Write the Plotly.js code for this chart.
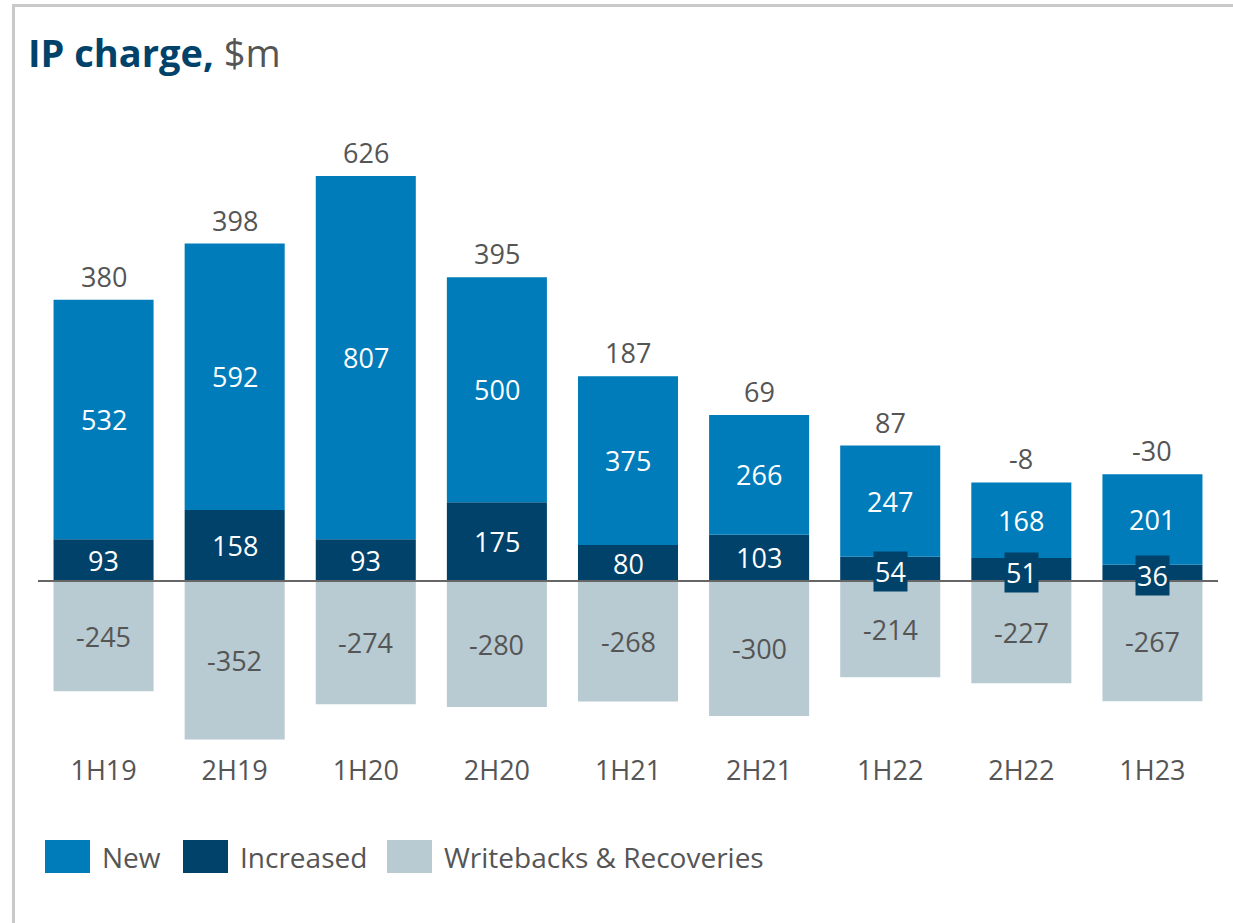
<!DOCTYPE html>
<html>
<head>
<meta charset="utf-8">
<script src="https://cdn.plot.ly/plotly-3.0.1.min.js"></script>
<style>
  html, body { margin: 0; padding: 0; background: #fff; }
  #frame { position: absolute; left: 12px; top: 4px; width: 1300px; height: 1000px;
           border-top: 3px solid #c9c9c9; border-left: 3px solid #c9c9c9; pointer-events: none; z-index: 5; }
  #chart { position: absolute; left: 0; top: 0; width: 1233px; height: 923px; }
</style>
</head>
<body>
<div id="chart"></div>
<div id="frame"></div>
<script>
const periods = ['1H19','2H19','1H20','2H20','1H21','2H21','1H22','2H22','1H23'];
const newVals = [532, 592, 807, 500, 375, 266, 247, 168, 201];
const increasedVals = [93, 158, 93, 175, 80, 103, 54, 51, 36];
const writebackVals = [-245, -352, -274, -280, -268, -300, -214, -227, -267];
const netTotals = [380, 398, 626, 395, 187, 69, 87, -8, -30];
const seriesNames = ['New', 'Increased', 'Writebacks & Recoveries'];

const cNew = '#007CBA', cInc = '#00426A', cWb = '#B8CAD2', cText = '#555555';
const font = 'Open Sans, sans-serif';
const fs = 27;

const traces = [
  { type: 'bar', name: seriesNames[1], x: periods, y: increasedVals, marker: { color: cInc }, hoverinfo: 'skip' },
  { type: 'bar', name: seriesNames[0], x: periods, y: newVals, marker: { color: cNew }, hoverinfo: 'skip' },
  { type: 'bar', name: seriesNames[2], x: periods, y: writebackVals, marker: { color: cWb }, hoverinfo: 'skip' }
];

const annotations = [];
periods.forEach((p, i) => {
  annotations.push({ x: p, y: increasedVals[i] + newVals[i] / 2, text: String(newVals[i]), showarrow: false,
    font: { family: font, size: fs, color: '#ffffff' } });
  const small = increasedVals[i] < 60;
  annotations.push({ x: p, y: increasedVals[i] / 2, text: String(increasedVals[i]), showarrow: false,
    font: { family: font, size: fs, color: '#ffffff' },
    bgcolor: small ? cInc : 'rgba(0,0,0,0)', borderpad: small ? 1 : 0, yshift: small ? -3 : 0 });
  annotations.push({ x: p, y: writebackVals[i] / 2, text: String(writebackVals[i]), showarrow: false,
    font: { family: font, size: fs, color: cText } });
  annotations.push({ x: p, y: increasedVals[i] + newVals[i], text: String(netTotals[i]), showarrow: false,
    yanchor: 'bottom', yshift: 3, font: { family: font, size: fs, color: cText } });
});

const legendColors = [cNew, cInc, cWb];
const legendX = [45, 183, 387];
const shapes = [
  { type: 'line', xref: 'paper', yref: 'y', x0: 0, x1: 1, y0: 0, y1: 0, layer: 'above',
    line: { color: '#666666', width: 2 } }
];
seriesNames.forEach((n, i) => {
  shapes.push({ type: 'rect', xref: 'paper', yref: 'paper', layer: 'above',
    x0: (legendX[i] - 38) / 1180, x1: (legendX[i] + 45 - 38) / 1180,
    y0: (923 - 171 - 873) / 652, y1: (923 - 171 - 840) / 652,
    fillcolor: legendColors[i], line: { width: 0 } });
  annotations.push({ xref: 'paper', yref: 'paper', x: (legendX[i] + 55 - 38) / 1180, y: (923 - 171 - 857) / 652,
    xanchor: 'left', yanchor: 'middle', text: n, showarrow: false,
    font: { family: font, size: 28, color: cText } });
});

const layout = {
  width: 1233, height: 923,
  margin: { l: 38, r: 15, t: 100, b: 171 },
  paper_bgcolor: '#ffffff', plot_bgcolor: '#ffffff',
  barmode: 'relative', bargap: 0.237,
  showlegend: false,
  title: {
    text: '<b><span style="color:#00426A">IP charge,</span></b> <span style="color:#555555">$m</span>',
    x: 28 / 1233, xanchor: 'left', xref: 'container',
    y: 1 - 54 / 923, yanchor: 'middle', yref: 'container',
    font: { family: font, size: 38, color: '#00426A' }
  },
  xaxis: { type: 'category', range: [-0.5, 8.5], showgrid: false, zeroline: false, showline: false,
    ticks: '', tickfont: { family: font, size: fs, color: cText }, fixedrange: true },
  yaxis: { range: [-380, 1068.9], showgrid: false, zeroline: false, showline: false,
    showticklabels: false, ticks: '', fixedrange: true },
  shapes: shapes,
  annotations: annotations,
  font: { family: font }
};

Plotly.newPlot('chart', traces, layout, { displayModeBar: false, staticPlot: true });
</script>
</body>
</html>
